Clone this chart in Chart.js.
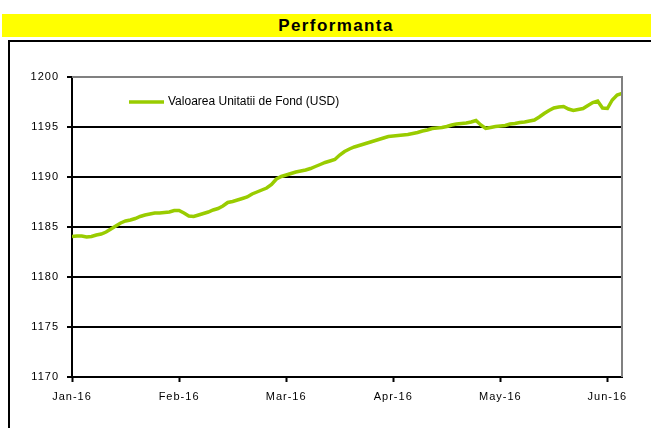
<!DOCTYPE html>
<html>
<head>
<meta charset="utf-8">
<script src="https://cdn.jsdelivr.net/npm/chart.js@4.4.1/dist/chart.umd.min.js"></script>
<style>
  html, body { margin: 0; padding: 0; background: #fff; overflow: hidden; }
  body { width: 651px; height: 428px; position: relative; }
  #bar { position: absolute; left: 2px; top: 14px; width: 668px; height: 23px; background: #ffff00;
         font: bold 17px "Liberation Sans", Arial, sans-serif; letter-spacing: 1.4px; color: #000; text-align: center; line-height: 24px; }
  #box { position: absolute; left: 8px; top: 40px; width: 700px; height: 500px; border: 2px solid #000; }
  #c { position: absolute; left: 0; top: 0; }
</style>
</head>
<body>
<div id="bar">Performanta</div>
<div id="box"></div>
<canvas id="c" width="651" height="428"></canvas>
<script>
const chartTitle = 'Performanta';
const seriesLabel = 'Valoarea Unitatii de Fond (USD)';
const monthLabels = ['Jan-16', 'Feb-16', 'Mar-16', 'Apr-16', 'May-16', 'Jun-16'];
const pointsPerMonth = 22;
const yTicks = [1170, 1175, 1180, 1185, 1190, 1195, 1200];
const navValues = [
  1184.05, 1184.1, 1184.1, 1184.0, 1184.05, 1184.2, 1184.3, 1184.5, 1184.8, 1185.1,
  1185.4, 1185.6, 1185.7, 1185.85, 1186.05, 1186.2, 1186.3, 1186.4, 1186.4, 1186.45,
  1186.5, 1186.65, 1186.65, 1186.4, 1186.1, 1186.05, 1186.2, 1186.35, 1186.5, 1186.7,
  1186.85, 1187.1, 1187.45, 1187.55, 1187.7, 1187.85, 1188.0, 1188.3, 1188.5, 1188.7,
  1188.9, 1189.25, 1189.8, 1190.05, 1190.2, 1190.35, 1190.5, 1190.6, 1190.7, 1190.85,
  1191.05, 1191.25, 1191.45, 1191.6, 1191.75, 1192.2, 1192.55, 1192.8, 1193.0, 1193.15,
  1193.3, 1193.45, 1193.6, 1193.75, 1193.9, 1194.05, 1194.1, 1194.15, 1194.2, 1194.25,
  1194.35, 1194.45, 1194.6, 1194.7, 1194.85, 1194.9, 1194.95, 1195.05, 1195.2, 1195.3,
  1195.35, 1195.4, 1195.5, 1195.65, 1195.2, 1194.85, 1194.95, 1195.05, 1195.1, 1195.15,
  1195.3, 1195.35, 1195.45, 1195.5, 1195.6, 1195.7, 1196.0, 1196.35, 1196.65, 1196.9,
  1197.0, 1197.05, 1196.8, 1196.65, 1196.75, 1196.85, 1197.15, 1197.45, 1197.6, 1196.9,
  1196.85, 1197.7, 1198.2, 1198.35
];

document.getElementById('bar').textContent = chartTitle;

const FONT = '"Liberation Sans", Arial, sans-serif';
Chart.defaults.font.family = FONT;
Chart.defaults.color = '#000';

const excelPlugin = {
  id: 'excelLook',
  beforeDraw(chart) {
    chart.ctx.letterSpacing = '1px';
  },
  afterDraw(chart) {
    const ctx = chart.ctx;
    const a = chart.chartArea;
    ctx.save();
    ctx.letterSpacing = '0px';
    // plot area border (top & right) in gray
    ctx.strokeStyle = '#808080';
    ctx.lineWidth = 2;
    ctx.beginPath();
    ctx.moveTo(a.left, a.top);
    ctx.lineTo(a.right, a.top);
    ctx.lineTo(a.right, a.bottom);
    ctx.stroke();
    // legend inside plot
    const ds = chart.data.datasets[0];
    const ly = a.top + 25;
    const lx = a.left + 57;
    ctx.strokeStyle = ds.borderColor;
    ctx.lineWidth = 3.5;
    ctx.beginPath();
    ctx.moveTo(lx, ly);
    ctx.lineTo(lx + 35, ly);
    ctx.stroke();
    ctx.fillStyle = '#000';
    ctx.font = '12px ' + FONT;
    ctx.textBaseline = 'middle';
    ctx.textAlign = 'left';
    ctx.fillText(ds.label, lx + 39, ly);
    ctx.restore();
  }
};

new Chart(document.getElementById('c'), {
  type: 'line',
  data: {
    datasets: [{
      label: seriesLabel,
      data: navValues.map((v, i) => ({ x: i, y: v })),
      borderColor: '#99cc00',
      borderWidth: 3.5,
      pointRadius: 0,
      tension: 0,
      fill: false
    }]
  },
  options: {
    responsive: false,
    animation: false,
    devicePixelRatio: 1,
    layout: { padding: { top: 77, left: 0, right: 29, bottom: 0 } },
    plugins: { legend: { display: false }, tooltip: { enabled: false }, title: { display: false } },
    scales: {
      x: {
        type: 'linear',
        min: 0,
        max: 113,
        afterFit(s) { s.height = 51; },
        grid: { drawOnChartArea: false, drawTicks: true, tickLength: 5, tickWidth: 2, tickColor: '#000' },
        border: { display: true, color: '#000', width: 2 },
        ticks: {
          stepSize: pointsPerMonth,
          includeBounds: false,
          autoSkip: false,
          maxRotation: 0,
          padding: 8,
          font: { size: 11 },
          color: '#000',
          callback: (v) => monthLabels[v / pointsPerMonth] ?? ''
        }
      },
      y: {
        min: yTicks[0],
        max: yTicks[yTicks.length - 1],
        afterFit(s) { s.width = 72; },
        afterBuildTicks(s) { s.ticks = yTicks.map(v => ({ value: v })); },
        grid: {
          color: (c) => (c.tick && c.tick.value === yTicks[yTicks.length - 1]) ? '#808080' : '#000',
          lineWidth: 2,
          drawTicks: true,
          tickLength: 5,
          tickColor: '#000',
          tickWidth: 2
        },
        border: { display: true, color: '#000', width: 2 },
        ticks: { padding: 8, font: { size: 11 }, color: '#000', callback: (v) => String(v) }
      }
    }
  },
  plugins: [excelPlugin]
});
</script>
</body>
</html>
